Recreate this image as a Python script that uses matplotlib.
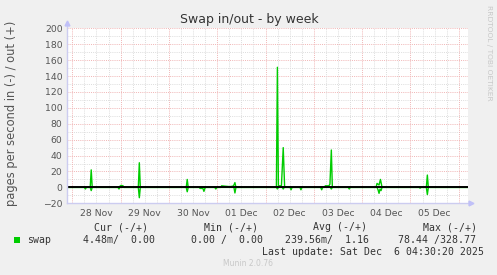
import matplotlib
matplotlib.use("Agg")
import matplotlib.pyplot as plt

# ---------------- data (hours relative to 28 Nov 00:00) ----------------
day_labels = ["28 Nov", "29 Nov", "30 Nov", "01 Dec", "02 Dec", "03 Dec", "04 Dec", "05 Dec"]
x_start, x_end = -2.78, 196.6

out_hours = [-2.8, 8.9, 9.4, 9.9, 22.7, 23.7, 24.2, 25.2, 25.7, 32.8, 33.3, 33.8,
             56.6, 57.1, 57.6, 73.7, 74.2, 75.9, 78.2, 79.8, 80.3, 80.8, 81.3,
             101.4, 101.9, 102.4, 103.9, 104.8, 105.5, 125.2, 125.7, 127.5, 128.0,
             128.7, 129.2, 150.9, 151.4, 152.4, 153.1, 153.9, 175.9, 176.4, 176.9, 196.6]
out_vals = [0, 0, 22, 0, 0, 1.5, 2.5, 2, 0, 0, 31, 0,
            0, 10, 0, 0, 2, 1.5, 1, 1.5, 3, 6, 0,
            0, 151, 2, 2, 50, 0, 0, 2, 2, 4,
            47, 0, 0, 5, 3, 10, 0, 0, 15.5, 0, 0]

in_hours = [-2.8, 6.0, 6.5, 7.0, 8.9, 9.4, 9.9, 22.7, 23.2, 23.7, 32.8, 33.3, 33.8,
            56.6, 57.1, 57.6, 63.0, 63.5, 64.9, 65.4, 65.9, 66.4, 70.8, 71.3, 71.8,
            80.3, 80.8, 81.3, 101.4, 101.9, 102.4, 104.3, 104.8, 105.3, 108.2, 108.7, 109.2,
            113.1, 113.6, 114.1, 123.4, 123.9, 124.4, 128.2, 128.7, 129.2, 137.1, 137.6, 138.1,
            151.4, 151.9, 152.4, 152.9, 153.4, 153.9, 172.3, 172.8, 173.3, 175.9, 176.4, 176.9, 196.6]
in_vals = [0, 0, 2, 0, 0, 4, 0, 0, 2, 0, 0, 13, 0,
           0, 5.5, 0, 0, 1.3, 1.3, 5, 1, 0, 0, 2, 0,
           0, 7, 0, 0, 2, 0, 0, 2, 0, 0, 3, 0,
           0, 3, 0, 0, 3, 0, 0, 2, 0, 0, 2, 0,
           0, 3, 7.5, 2, 4, 0, 0, 1, 0, 0, 9, 0, 0]

legend_cols = ["Cur (-/+)", "Min (-/+)", "Avg (-/+)", "Max (-/+)"]
legend_vals = ["4.48m/  0.00", "0.00 /  0.00", "239.56m/  1.16", "78.44 /328.77"]
series_name = "swap"
last_update = "Last update: Sat Dec  6 04:30:20 2025"

# ---------------- figure ----------------
W, H = 497, 275
fig = plt.figure(figsize=(W / 100, H / 100), dpi=100)
fig.patch.set_facecolor("#f0f0f0")

left_px, right_px, top_px, bot_px = 66.7, 468.0, 28.3, 203.3
ax = fig.add_axes([left_px / W, 1 - bot_px / H, (right_px - left_px) / W, (bot_px - top_px) / H])
ax.set_facecolor("white")
ax.set_xlim(x_start, x_end)
ax.set_ylim(-20, 200)

minor_c = "#dcdcdc"
major_c = "#f0b4b4"
dash = (0, (1, 1.2))
for yv in range(-20, 201, 10):
    col = major_c if yv % 20 == 0 else minor_c
    ax.axhline(yv, color=col, lw=0.7, ls=dash, zorder=1)
n_days = len(day_labels) + 1
for h in range(0, 24 * n_days, 6):
    if h > x_end:
        break
    col = major_c if h % 24 == 0 else minor_c
    ax.axvline(h, color=col, lw=0.7, ls=dash, zorder=1)

green = "#00cc00"
ax.plot(out_hours, out_vals, color=green, lw=1.0, zorder=3)
ax.plot(in_hours, [-v for v in in_vals], color=green, lw=1.0, zorder=3)
ax.axhline(0, color="black", lw=1.4, zorder=4)

for s in ax.spines.values():
    s.set_visible(False)

noons = [12 + 24 * i for i in range(len(day_labels))]
ax.set_xticks(noons)
ax.set_xticklabels(day_labels)
ax.set_yticks(range(-20, 201, 20))
ax.tick_params(axis="both", length=0, labelsize=6.7, labelcolor="#555555", pad=3)
ax.tick_params(axis="x", pad=4)

# axis lines with arrows
axis_c = "#ccccf0"
ax.plot([0, 1.005], [0, 0], transform=ax.transAxes, color=axis_c, lw=1, clip_on=False, zorder=5)
ax.plot([0, 0], [0, 1.03], transform=ax.transAxes, color=axis_c, lw=1, clip_on=False, zorder=5)
ax.plot([1.008], [0], transform=ax.transAxes, marker=">", ms=3.5, color="#c0c0f8", clip_on=False, zorder=5)
ax.plot([0], [1.03], transform=ax.transAxes, marker="^", ms=3.5, color="#c0c0f8", clip_on=False, zorder=5)

# titles
fig.text(249 / W, 1 - 19.5 / H, "Swap in/out - by week", ha="center", va="center",
         fontsize=9, color="#333333")
fig.text(12 / W, 1 - 113.5 / H, "pages per second in (-) / out (+)", rotation=90,
         ha="center", va="center", fontsize=8.3, color="#555555")
fig.text(488.5 / W, 1 - 53 / H, "RRDTOOL / TOBI OETIKER", rotation=270,
         ha="center", va="center", fontsize=5.4, color="#c8c8c8")

# legend
mono = "DejaVu Sans Mono"
lc = "#333333"
fs = 7.1
fig.patches.append(plt.Rectangle((14 / W, 1 - 243 / H), 6 / W, 6 / H, transform=fig.transFigure,
                                 facecolor=green, edgecolor="none"))
fig.text(26.7 / W, 1 - 240 / H, series_name, family=mono, fontsize=fs, color=lc, va="center")
head_x = [94, 204, 313.3, 422.7]
val_x = [83.3, 190.7, 285.3, 397.7]
for hx, t in zip(head_x, legend_cols):
    fig.text(hx / W, 1 - 227.3 / H, t, family=mono, fontsize=fs, color=lc, va="center")
for vx, t in zip(val_x, legend_vals):
    fig.text(vx / W, 1 - 240 / H, t, family=mono, fontsize=fs, color=lc, va="center")
fig.text(261.7 / W, 1 - 251.7 / H, last_update, family=mono, fontsize=fs, color=lc, va="center")
fig.text(247.7 / W, 1 - 264 / H, "Munin 2.0.76", ha="center", va="center",
         fontsize=5.5, color="#c8c8c8")

fig.savefig("out.png", dpi=100, facecolor=fig.get_facecolor())
